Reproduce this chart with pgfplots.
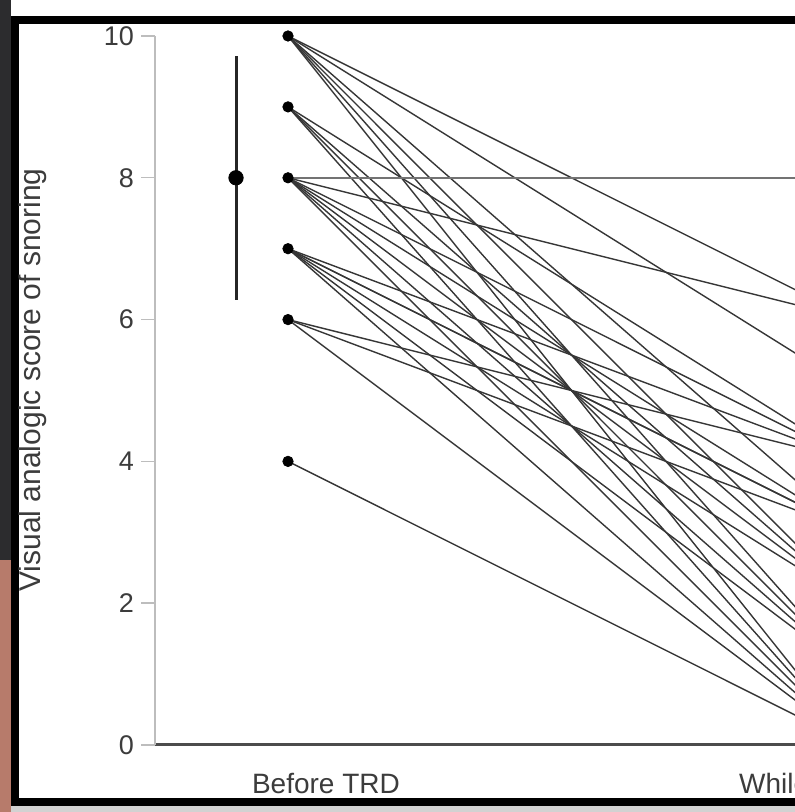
\documentclass[border=0pt]{standalone}
\usepackage{fontspec}
\setmainfont{Liberation Sans}
\usepackage{pgfplots}
\pgfplotsset{compat=1.18}
\definecolor{linegray}{HTML}{363636}
\definecolor{axisgray}{HTML}{BDBDBD}
\definecolor{textgray}{HTML}{3C3C3C}
\definecolor{skin}{HTML}{B77B6B}
\definecolor{darkstrip}{HTML}{2C2C2E}
\begin{document}
\begin{tikzpicture}
\useasboundingbox (0,0) rectangle (397.5pt,406pt);
\clip (0,0) rectangle (397.5pt,406pt);
\fill[white] (0,0) rectangle (397.5pt,406pt);
\begin{scope}[x=0.5pt,y=-0.5pt,shift={(0,406pt)}]
 \fill[darkstrip] (0,0) rectangle (11,812);
 \fill[skin] (0,560) rectangle (11,812);
 \fill[gray!35] (11,806) rectangle (795,812);
 \fill[black] (11,16) rectangle (795,24);
 \fill[black] (11,16) rectangle (19,806);
 \fill[black] (11,798) rectangle (795,806);
 \node[rotate=90, font=\fontsize{15pt}{17pt}\selectfont, text=textgray] at (33,380) {Visual analogic score of snoring};
\end{scope}
\begin{axis}[
 at={(77.5pt,33.5pt)}, anchor=south west,
 scale only axis, width=435.05pt, height=354.5pt,
 xmin=-0.234568, xmax=1.3, ymin=0, ymax=10,
 axis x line=bottom, axis y line=left,
 axis line style={-},
 x axis line style={-, line width=1.5pt, color=black!70},
 y axis line style={-, line width=0.8pt, color=axisgray},
 xtick=\empty,
 ytick={0,2,4,6,8,10},
 tick align=outside, major tick length=7pt,
 ytick style={axisgray, line width=0.7pt},
 yticklabel style={font=\fontsize{13.5pt}{15pt}\selectfont, text=textgray},
 /pgf/number format/assume math mode=true,
 clip=false,
]
% individual patients: (Before TRD) -> (While using TRD)
\addplot[no marks, line width=0.7pt, linegray] coordinates {(0,10) (1,6)};
\addplot[no marks, line width=0.7pt, linegray] coordinates {(0,10) (1,5)};
\addplot[no marks, line width=0.7pt, linegray] coordinates {(0,10) (1,3)};
\addplot[no marks, line width=0.7pt, linegray] coordinates {(0,10) (1,2)};
\addplot[no marks, line width=0.7pt, linegray] coordinates {(0,10) (1,1)};
\addplot[no marks, line width=0.7pt, linegray] coordinates {(0,10) (1,0)};
\addplot[no marks, line width=0.7pt, linegray] coordinates {(0,9) (1,4)};
\addplot[no marks, line width=0.7pt, linegray] coordinates {(0,9) (1,2)};
\addplot[no marks, line width=0.7pt, linegray] coordinates {(0,9) (1,1)};
\addplot[no marks, line width=0.7pt, linegray] coordinates {(0,9) (1,0)};
\addplot[no marks, line width=0.8pt, black!55] coordinates {(0,8) (1,8)};
\addplot[no marks, line width=0.7pt, linegray] coordinates {(0,8) (1,6)};
\addplot[no marks, line width=0.7pt, linegray] coordinates {(0,8) (1,4)};
\addplot[no marks, line width=0.7pt, linegray] coordinates {(0,8) (1,3)};
\addplot[no marks, line width=0.7pt, linegray] coordinates {(0,8) (1,2)};
\addplot[no marks, line width=0.7pt, linegray] coordinates {(0,8) (1,1)};
\addplot[no marks, line width=0.7pt, linegray] coordinates {(0,8) (1,0)};
\addplot[no marks, line width=0.7pt, linegray] coordinates {(0,7) (1,4)};
\addplot[no marks, line width=0.7pt, linegray] coordinates {(0,7) (1,3)};
\addplot[no marks, line width=0.7pt, linegray] coordinates {(0,7) (1,3)};
\addplot[no marks, line width=0.7pt, linegray] coordinates {(0,7) (1,2)};
\addplot[no marks, line width=0.7pt, linegray] coordinates {(0,7) (1,1)};
\addplot[no marks, line width=0.7pt, linegray] coordinates {(0,7) (1,0)};
\addplot[no marks, line width=0.7pt, linegray] coordinates {(0,6) (1,4)};
\addplot[no marks, line width=0.7pt, linegray] coordinates {(0,6) (1,3)};
\addplot[no marks, line width=0.7pt, linegray] coordinates {(0,6) (1,0)};
\addplot[no marks, line width=0.7pt, linegray] coordinates {(0,4) (1,0)};
% starting values
\addplot[only marks, mark=*, mark size=2.6pt, black] coordinates {(0,10) (0,9) (0,8) (0,7) (0,6) (0,4)};
% mean +- SD before TRD
\addplot[only marks, mark=*, mark size=3.6pt, black,
  error bars/.cd, y dir=both, y explicit,
  error bar style={line width=1.5pt, black!85}, error mark=none]
  coordinates {(-0.0917,8) +- (0,1.72)};
\node[anchor=base west, xshift=-21.5pt, yshift=-24pt, font=\fontsize{14pt}{16pt}\selectfont, text=textgray] at (axis cs:0,0) {Before TRD};
\node[anchor=base west, xshift=-61.5pt, yshift=-24pt, font=\fontsize{14pt}{16pt}\selectfont, text=textgray] at (axis cs:1,0) {While using TRD};
\end{axis}
\end{tikzpicture}
\end{document}
